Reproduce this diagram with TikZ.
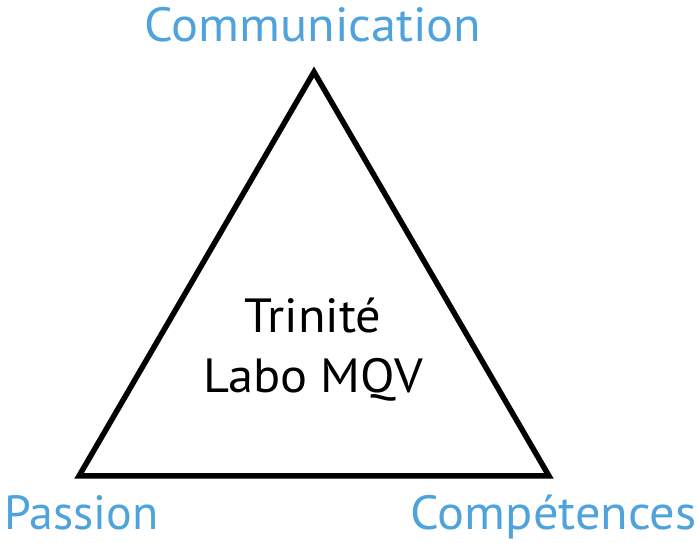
\documentclass[tikz,border=0pt]{standalone}
\usepackage{fontspec}
\setmainfont{PT Sans}[FakeStretch=1.05]
\definecolor{lblue}{HTML}{4FA3DC}
\begin{document}
\begin{tikzpicture}[x=1pt,y=1pt,
  corner/.style={font=\fontsize{48}{52}\selectfont, text=lblue, inner sep=0pt},
  center/.style={font=\fontsize{48}{52}\selectfont, text=black, inner sep=0pt, anchor=base}]
\useasboundingbox (0,0) rectangle (699,543);
\coordinate (A) at (314,471);
\coordinate (B) at (79,67);
\coordinate (C) at (549,67);
\draw[line width=5.5pt, line join=miter] (A) -- (B) -- (C) -- cycle;
\node[corner, anchor=base] (comm) at (313,501) {Communication};
\node[corner, anchor=base west] (pass) at (4,13) {\addfontfeature{FakeStretch=1.0}Passion};
\node[corner, anchor=base east] (comp) at (697,13) {Compétences};
\node[center] (t1) at (313,210) {Trinité};
\node[center] (t2) at (313,150) {Labo MQV};
\end{tikzpicture}
\end{document}
